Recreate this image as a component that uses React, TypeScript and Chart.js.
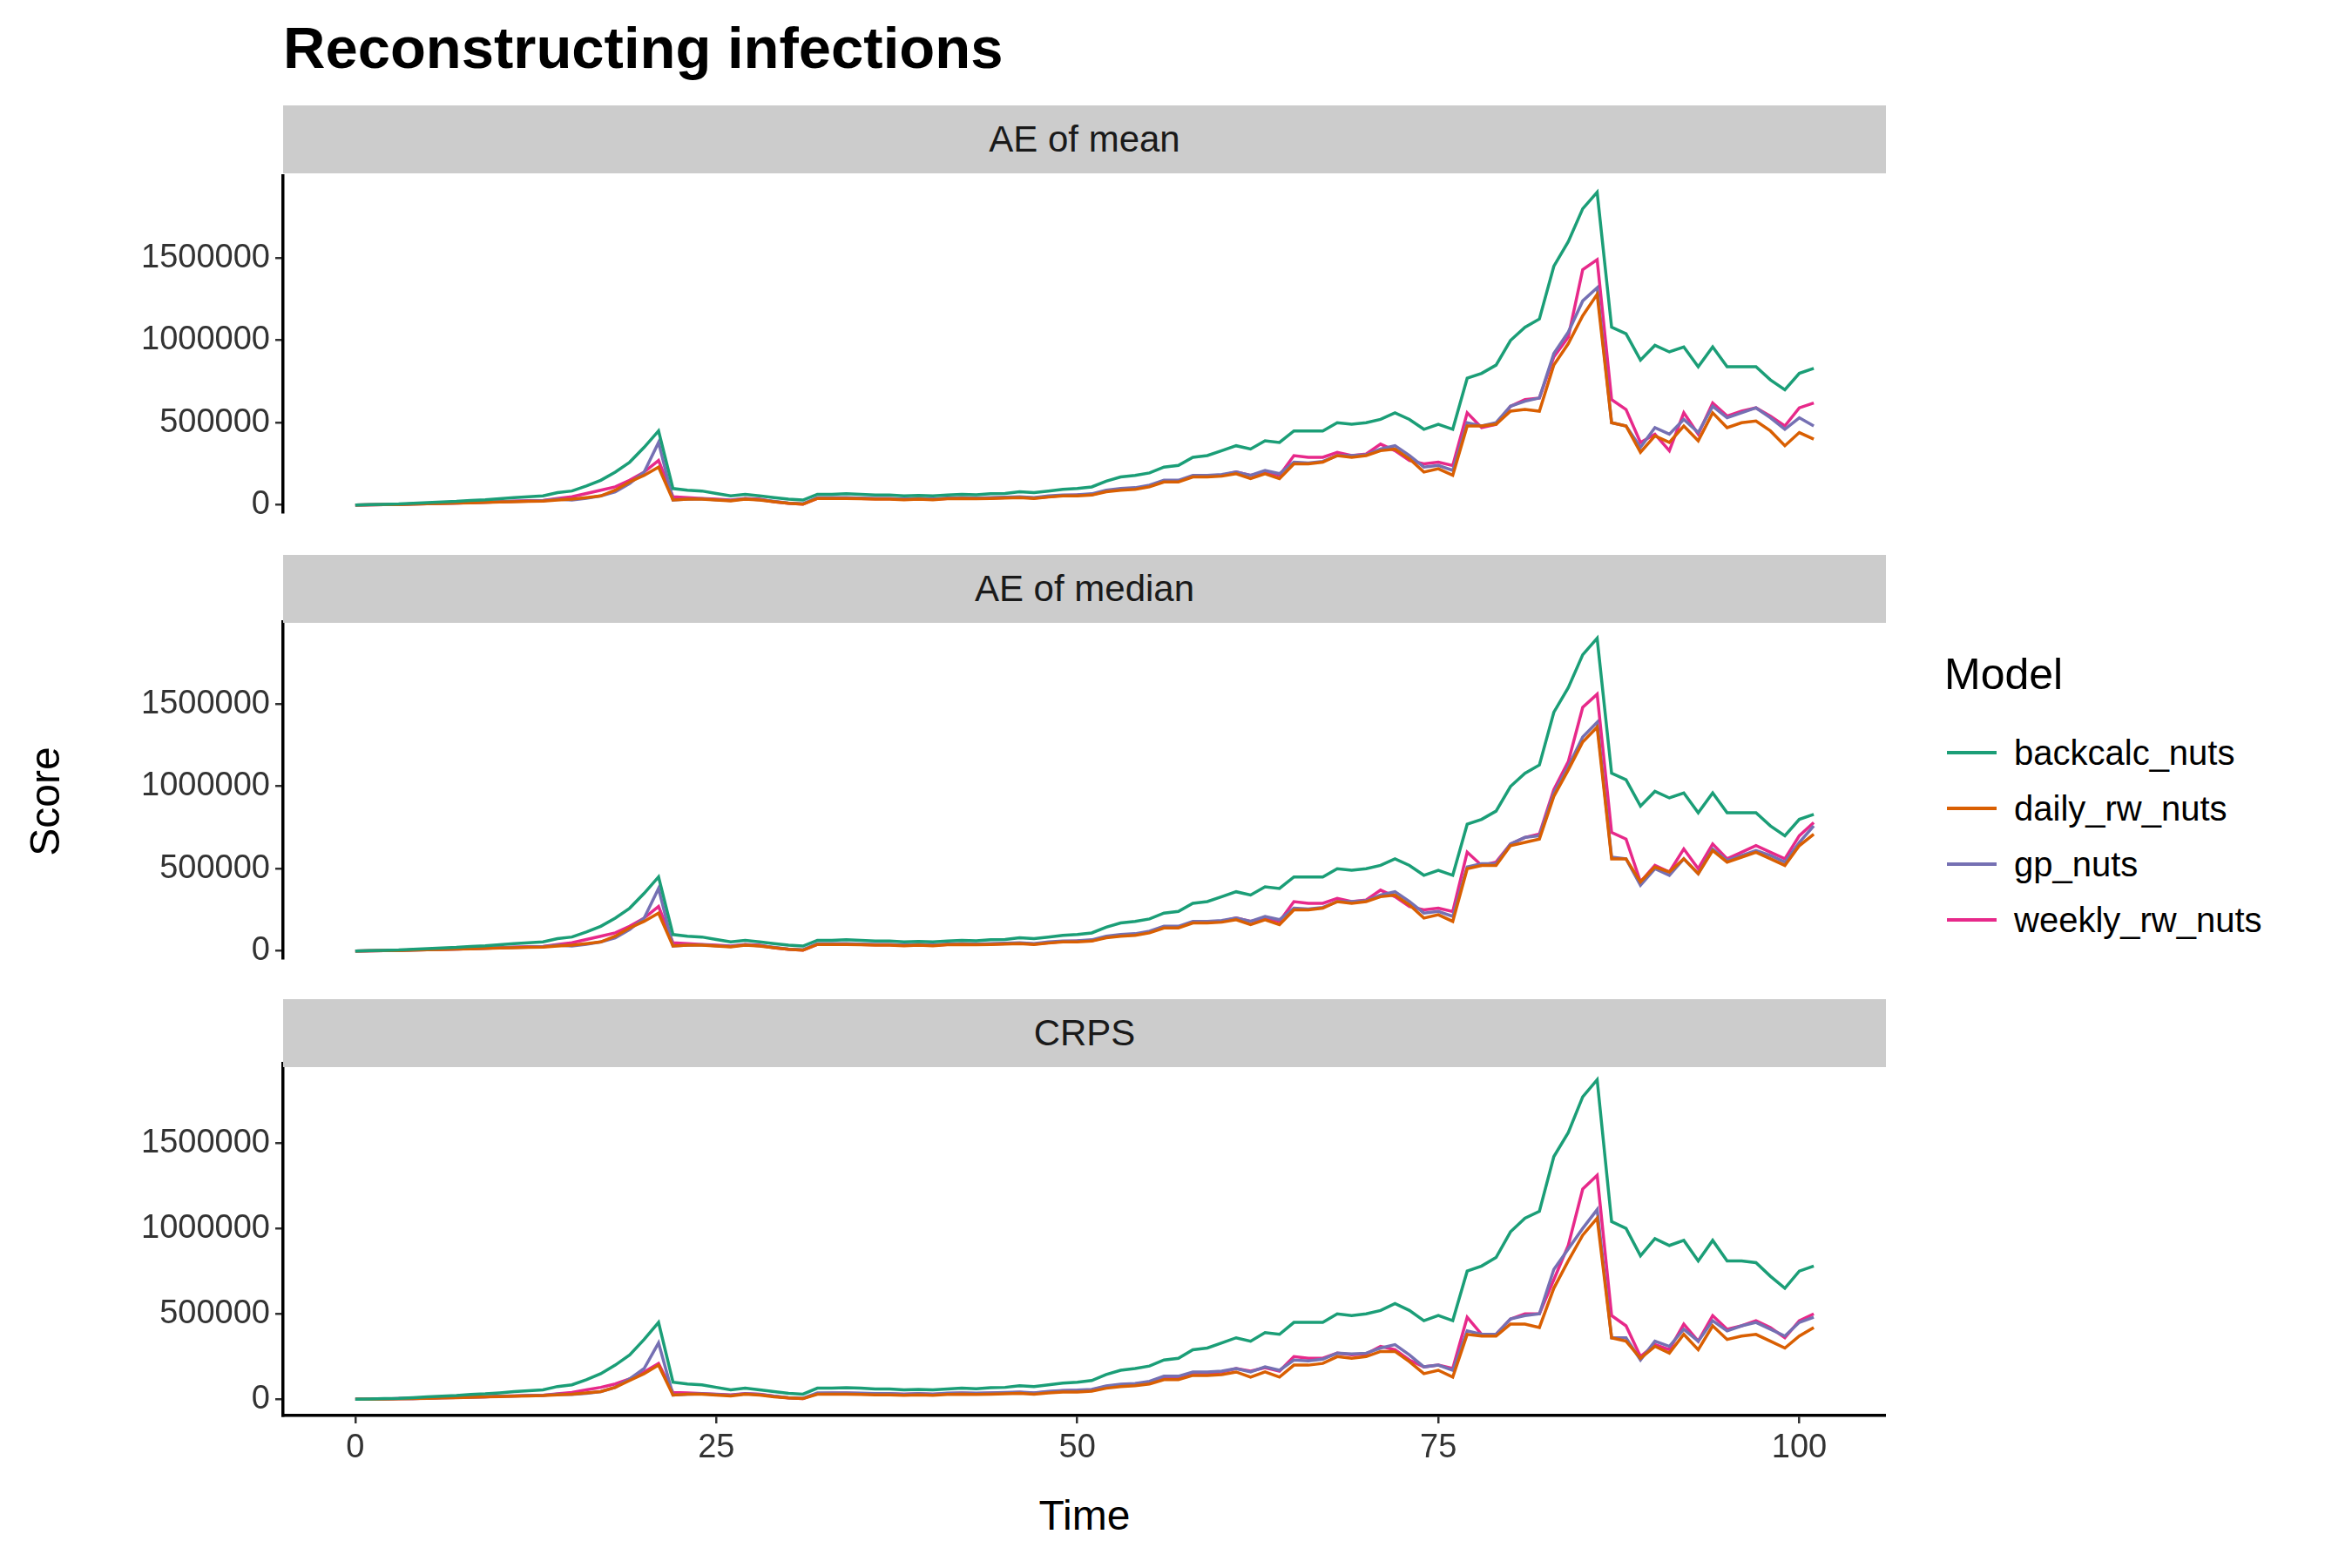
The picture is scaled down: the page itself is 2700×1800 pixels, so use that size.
import React, { useEffect, useRef } from 'react';
import { Chart, registerables } from 'chart.js';

Chart.register(...registerables);

// values in thousands, time 0..101
const models = ['backcalc_nuts', 'daily_rw_nuts', 'gp_nuts', 'weekly_rw_nuts'];
const colors = ['#1B9E77', '#D95F02', '#7570B3', '#E7298A'];

const backcalcEarly = [0,2,4,6,10,14,18,22,28,32,38, 45,50,55,75,85,115,150,200,260,350,450, 100,90,85,70,55,65,55,45,35,30, 65,65,68,65,60,60,55,58,55,60,65,62,68,70,80,75,85,95,100, 110,145,170,180,195,230,240,290,300,330, 360,340,390,380,450,450,450,500,490,500, 520,560,520,460,490,460];
const backcalcLate = [770,800,850,1000,1080,1130,1450,1600,1800,1900, 1080,1040,880,970,930,960,840,960,840,840,840,760,700,800,830];
const backcalcCrpsLate = [750,780,830,980,1060,1100,1420,1560,1770,1870, 1040,1000,840,940,900,930,810,930,810,810,800,720,650,750,780];

const dailyEarly = [0,1,2,3,5,7,9,11,13,15,18, 20,22,24,30,35,45,55,90,140,180,230, 30,35,35,30,25,35,30,20,10,5, 40,40,40,38,35,35,32,35,32,38,40,38,40,42,45,40,48,55,55, 60,80,90,95,110,140,140,170,170,175, 190,160,190,160,250,250,260,300,290,300, 330,340,280,200,220,180];
const gpEarly = [0,1,2,4,6,8,10,12,14,17,20, 22,24,26,35,30,40,55,80,130,200,380, 30,35,38,32,28,38,32,22,12,8, 45,45,45,42,40,40,36,40,36,42,45,42,45,48,50,45,55,60,62, 68,90,100,105,120,150,150,180,180,185, 200,180,210,190,260,255,265,300,300,305, 340,360,300,230,240,210];
const weeklyEarly = [0,1,2,4,6,8,10,12,14,17,20, 24,26,28,40,50,70,90,110,150,200,270, 50,45,40,35,30,40,35,20,10,5, 40,42,42,40,38,38,35,38,35,40,42,40,42,45,48,42,50,58,60, 62,85,95,100,115,145,145,175,175,180, 200,180,200,180,300,290,290,320,300,310, 370,330,270,250,260,240];

const dailyCrpsEarly = [0,1,2,3,4,6,8,10,12,14,16, 18,20,22,26,30,38,45,70,110,150,200, 25,30,30,25,20,30,25,15,8,4, 30,30,30,28,26,26,24,26,24,28,30,28,30,32,35,30,38,42,42, 48,65,75,80,90,115,115,140,140,145, 160,130,160,130,200,200,210,250,240,250, 280,280,220,150,170,130];
const gpCrpsEarly = [0,1,2,4,5,7,9,11,13,15,18, 20,22,24,30,28,35,45,70,120,180,330, 25,30,32,28,24,32,28,18,10,6, 38,38,38,36,34,34,30,34,30,36,38,36,38,40,42,38,46,52,54, 58,78,88,92,105,135,135,160,160,165, 180,160,190,170,230,225,235,270,265,270, 300,320,260,190,200,170];
const weeklyCrpsEarly = [0,1,2,4,5,7,9,11,13,15,18, 20,22,24,32,40,55,70,90,120,160,210, 40,38,34,30,26,34,30,18,8,4, 34,36,36,34,32,32,30,32,30,34,36,34,36,38,40,36,44,50,52, 55,75,85,90,100,130,130,155,155,160, 180,165,185,165,250,240,240,270,260,265, 310,290,230,190,200,180];

const dailyMeanLate = [480,480,490,570,580,570,850,980,1150,1280, 500,480,320,420,380,480,390,560,470,500,510,450,360,440,400];
const gpMeanLate = [500,480,500,600,630,650,920,1050,1240,1320, 500,480,350,470,430,520,440,600,530,560,590,530,460,530,480];
const weeklyMeanLate = [560,470,490,600,640,650,900,1020,1430,1490, 640,580,380,430,330,560,430,620,540,570,590,540,480,590,620];

const dailyMedianLate = [500,520,520,640,660,680,940,1100,1270,1360, 560,560,420,510,480,560,470,610,540,570,600,560,520,640,710];
const gpMedianLate = [510,530,530,650,690,700,960,1120,1300,1390, 570,560,400,500,460,560,470,620,550,580,610,580,540,660,760];
const weeklyMedianLate = [600,520,540,650,690,710,980,1150,1480,1560, 720,680,420,520,480,620,500,650,560,600,640,600,560,700,780];

const dailyCrpsLate = [380,370,370,440,440,420,650,810,960,1060, 360,340,240,310,270,380,290,430,350,370,380,340,300,370,420];
const gpCrpsLate = [400,380,380,470,490,500,760,880,1000,1110, 360,360,230,340,310,410,340,460,400,430,450,410,370,450,480];
const weeklyCrpsLate = [480,380,380,470,500,500,700,900,1230,1310, 490,430,250,320,290,440,340,490,410,430,460,420,360,460,500];

const panels = [
  { title: 'AE of mean', series: [backcalcEarly.concat(backcalcLate), dailyEarly.concat(dailyMeanLate), gpEarly.concat(gpMeanLate), weeklyEarly.concat(weeklyMeanLate)] },
  { title: 'AE of median', series: [backcalcEarly.concat(backcalcLate), dailyEarly.concat(dailyMedianLate), gpEarly.concat(gpMedianLate), weeklyEarly.concat(weeklyMedianLate)] },
  { title: 'CRPS', series: [backcalcEarly.concat(backcalcCrpsLate), dailyCrpsEarly.concat(dailyCrpsLate), gpCrpsEarly.concat(gpCrpsLate), weeklyCrpsEarly.concat(weeklyCrpsLate)] },
];

const FONT = "'Liberation Sans', Arial, sans-serif";
const LEFT = 325;
const PLOT_W = 1840;

const Panel: React.FC<{ series: number[][]; showX: boolean; top: number; height: number; yMin: number; yMax: number }> = ({ series, showX, top, height, yMin, yMax }) => {
  const ref = useRef<HTMLCanvasElement>(null);
  useEffect(() => {
    const ctx = ref.current?.getContext('2d');
    if (!ctx) return;
    const chart = new Chart(ctx, {
      type: 'line',
      data: {
        datasets: series.map((s, i) => ({
          label: models[i],
          data: s.map((v, t) => ({ x: t, y: v * 1000 })),
          borderColor: colors[i],
          borderWidth: 3.5,
          pointRadius: 0,
          tension: 0,
        })),
      },
      options: {
        animation: false,
        responsive: false,
        maintainAspectRatio: false,
        layout: { padding: 0 },
        plugins: { legend: { display: false }, tooltip: { enabled: false } },
        scales: {
          x: {
            type: 'linear', min: -5, max: 106, display: showX,
            afterBuildTicks: (s: any) => { s.ticks = [0, 25, 50, 75, 100].map(v => ({ value: v })); },
            afterFit: (s: any) => { if (showX) s.height = 80; },
            grid: { drawOnChartArea: false, tickLength: 9, color: '#333', lineWidth: 2.5 },
            border: { display: true, color: '#000', width: 3.5 },
            ticks: { color: '#333', font: { family: FONT, size: 38 }, padding: 6 },
          },
          y: {
            min: yMin, max: yMax,
            afterBuildTicks: (s: any) => { s.ticks = [0, 500000, 1000000, 1500000].map(v => ({ value: v })); },
            afterFit: (s: any) => { s.width = LEFT; },
            grid: { drawOnChartArea: false, tickLength: 9, color: '#333', lineWidth: 2.5 },
            border: { display: true, color: '#000', width: 3.5 },
            ticks: { color: '#333', font: { family: FONT, size: 38 }, padding: 6, callback: (v: any) => String(v) },
          },
        },
      },
    } as any);
    return () => chart.destroy();
  }, [series, showX, yMin, yMax]);
  return (
    <canvas ref={ref} width={LEFT + PLOT_W} height={height}
      style={{ position: 'absolute', left: 0, top, width: LEFT + PLOT_W, height }} />
  );
};

const strips = [121, 637, 1147];
const plotTops = [199, 711, 1225];

export default function App() {
  return (
    <div style={{ position: 'absolute', left: 0, top: 0, width: 2700, height: 1800, background: '#fff', fontFamily: FONT }}>
      <div style={{ position: 'absolute', left: 325, top: 16, fontSize: 67, fontWeight: 'bold', color: '#000' }}>Reconstructing infections</div>
      {panels.map((p, i) => (
        <React.Fragment key={p.title}>
          <Panel series={p.series} showX={i === 2} top={plotTops[i] - (i === 2 ? 33 : 26)}
            height={i === 2 ? 407 + 80 + 26 : 398 + 26 + 20}
            yMin={i === 2 ? -95000 : -45000} yMax={i === 2 ? 1965000 : 2000000} />
          <div style={{ position: 'absolute', left: LEFT, top: strips[i], width: PLOT_W, height: 78, background: '#cccccc', display: 'flex', alignItems: 'center', justifyContent: 'center', fontSize: 42, color: '#1a1a1a' }}>{p.title}</div>
        </React.Fragment>
      ))}
      <div style={{ position: 'absolute', left: 24, top: 1020, transform: 'rotate(-90deg)', transformOrigin: 'left top', fontSize: 48, color: '#000', width: 200, textAlign: 'center' }}>
        <span>Score</span>
      </div>
      <div style={{ position: 'absolute', left: LEFT, top: 1712, width: PLOT_W, textAlign: 'center', fontSize: 48, color: '#000' }}>Time</div>
      <div style={{ position: 'absolute', left: 2232, top: 745, fontSize: 50, color: '#000' }}>Model</div>
      {models.map((m, i) => (
        <div key={m} style={{ position: 'absolute', left: 2235, top: 840 + i * 64, height: 48, display: 'flex', alignItems: 'center' }}>
          <div style={{ width: 57, height: 3.5, background: colors[i] }} />
          <span style={{ marginLeft: 20, fontSize: 40, color: '#000' }}>{m}</span>
        </div>
      ))}
    </div>
  );
}
